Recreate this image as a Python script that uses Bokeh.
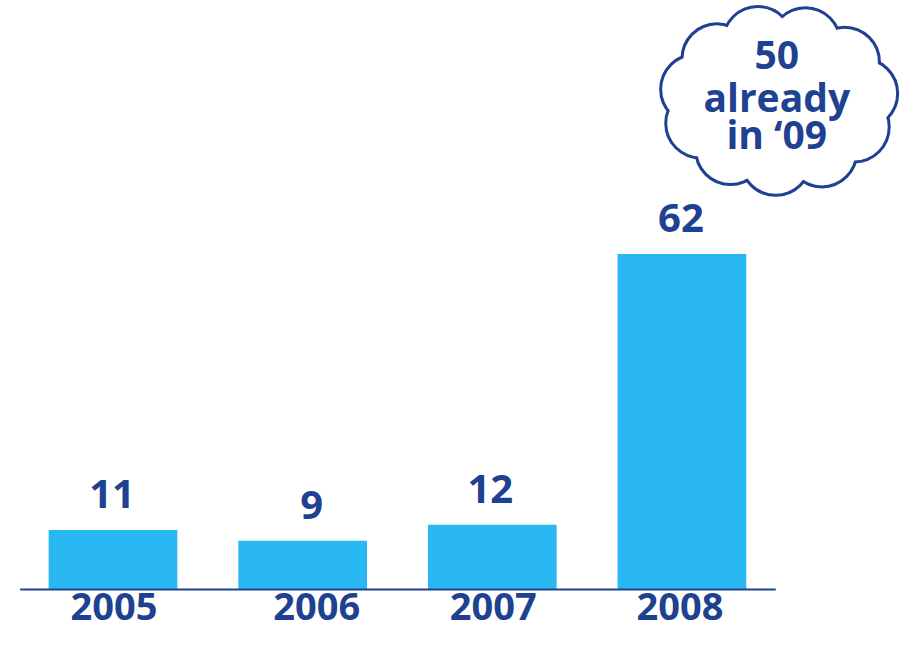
import numpy as np
from bokeh.plotting import figure
from bokeh.models import Range1d, ColumnDataSource
from bokeh.embed import file_html
from bokeh.resources import INLINE
from bokeh.core.properties import value

# ---- data ----
years = ["2005", "2006", "2007", "2008"]
counts = [11, 9, 12, 62]
callout_lines = ["50", "already", "in \u201809"]

# ---- style ----
BAR = "#2AB8F2"
DARK = "#1F4192"
FONT = "Open Sans"

W, H = 904, 632
RW, RH = 920.0, 648.0           # reference canvas size
S = W / RW                      # screen scale
TXT_SHIFT = -16                 # renderer baseline correction (px)


def fx(rx):
    # reference pixel x -> category coordinate
    return (rx - 114.5) / 193.0


def fy(ry):
    # reference pixel y -> value coordinate
    return (604.0 - ry) / 5.55


p = figure(width=W, height=H,
           x_range=Range1d(fx(0), fx(RW)),
           y_range=Range1d(fy(RH), fy(0)),
           output_backend="svg", toolbar_location=None,
           x_axis_type=None, y_axis_type=None,
           min_border=0, outline_line_color=None,
           background_fill_color="white", border_fill_color="white")

idx = list(range(len(years)))
src = ColumnDataSource(dict(
    x=idx, top=counts, lab=[str(c) for c in counts], year=years,
    val_dx=[-1, 9, -2, -1], year_dx=[1, 14, 1, -2],
))

p.vbar(x="x", top="top", bottom=0, width=131 / 193.0, source=src,
       fill_color=BAR, line_color=None)

p.segment(x0=[fx(20)], y0=[0], x1=[fx(789)], y1=[0],
          line_color=DARK, line_width=2)

p.text(x="x", y="top", text="lab", source=src, x_offset="val_dx",
       y_offset=-20 * S + TXT_SHIFT,
       text_align="center", text_baseline="alphabetic",
       text_font=value(FONT), text_font_style="bold", text_font_size="40px",
       text_color=DARK)

p.text(x="x", y=0, text="year", source=src, x_offset="year_dx",
       y_offset=34 * S + TXT_SHIFT,
       text_align="center", text_baseline="alphabetic",
       text_font=value(FONT), text_font_style="bold", text_font_size="38px",
       text_color=DARK)

# ---- cloud callout ----
cx, cy = 792.0, 102.0
a, b = 86.0, 62.0
n = 11
ang = np.linspace(0, 2 * np.pi, n, endpoint=False) + np.pi / 2 + 0.25
px = cx + a * np.cos(ang)
py = cy - b * np.sin(ang)
cloud = ColumnDataSource(dict(x=[fx(v) for v in px], y=[fy(v) for v in py]))
p.scatter(x="x", y="y", source=cloud, marker="circle", size=68 * S,
          fill_color="white", line_color=DARK, line_width=6)
p.scatter(x="x", y="y", source=cloud, marker="circle", size=68 * S,
          fill_color="white", line_color=None)
p.ellipse(x=[fx(cx)], y=[fy(cy)], width=(2 * a + 20) * S, height=(2 * b + 20) * S,
          width_units="screen", height_units="screen",
          fill_color="white", line_color=None)

p.text(x=[fx(790)] * 3, y=[fy(72), fy(115), fy(153)], text=callout_lines,
       y_offset=TXT_SHIFT,
       text_align="center", text_baseline="alphabetic",
       text_font=value(FONT), text_font_style="bold", text_font_size="39px",
       text_color=DARK)

open("out.html", "w").write(file_html(p, INLINE))
